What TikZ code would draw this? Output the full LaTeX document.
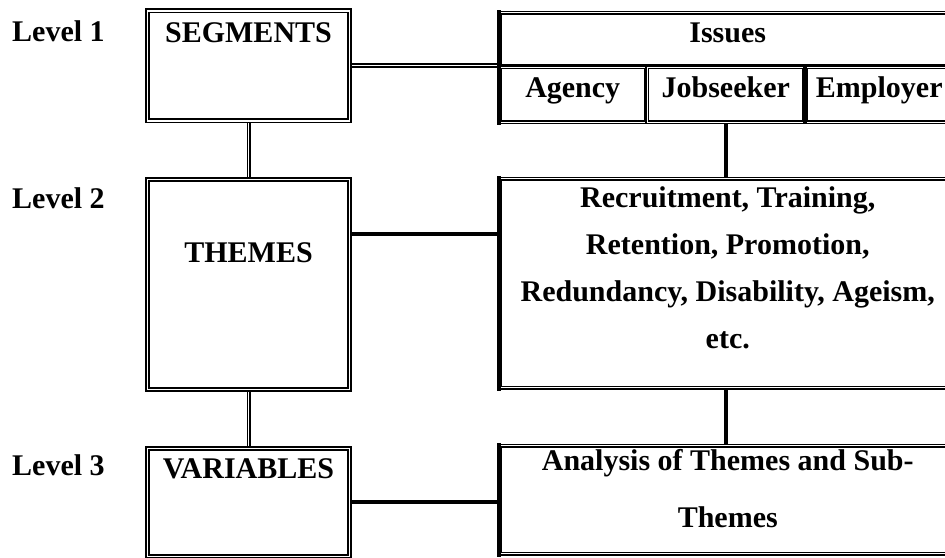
\documentclass[tikz,border=0pt]{standalone}
\usepackage{fontspec}
\setmainfont{Liberation Serif}
\usetikzlibrary{positioning, backgrounds}

\tikzset{
  lbox/.style={draw, double, line width=1.7pt, double distance=1.4pt, inner sep=0pt, minimum width=202pt},
  rbox/.style={draw, double, line width=1.5pt, double distance=1pt, inner sep=0pt, anchor=north west},
  lvl/.style={anchor=base west, inner sep=0pt},
  thickedge/.style={line width=4pt, line cap=rect},
  thickline/.style={line width=4pt},
  hdbl/.style={double, line width=1.8pt, double distance=1.2pt},
  vdbl/.style={double, line width=1.3pt, double distance=1.4pt}
}

\begin{document}
\begin{tikzpicture}[x=1pt, y=-1pt, every node/.style={font=\fontsize{30}{47}\selectfont\bfseries}]
        \useasboundingbox (0,0) rectangle (945,557);
        \clip (0,0) rectangle (945,557);

        % Level labels
        \node[lvl] (lvlA) at (12,41.7) {Level 1};
        \node[lvl] (lvlB) at (12,208) {Level 2};
        \node[lvl] (lvlC) at (12,475) {Level 3};

        % Left column
        \node[lbox, anchor=north, text height=31.7pt, text depth=78.3pt] (segments) at (248.5,10) {SEGMENTS};
        \node[lbox, below=57pt of segments, text height=82.5pt, text depth=127.5pt] (themes) {THEMES};
        \node[lbox, below=57pt of themes, text height=30.5pt, text depth=77.5pt] (variables) {VARIABLES};

        % Issues table
        \node[rbox, minimum width=456pt, text height=30pt, text depth=23pt] (issues) at (499,12) {Issues};
        \node[rbox, minimum width=146pt, text height=30pt, text depth=25pt] (agency) at (issues.south west) {Agency};
        \node[rbox, minimum width=157pt, text height=30pt, text depth=25pt, right=0pt of agency] (jobseeker) {Jobseeker};
        \node[rbox, minimum width=147pt, text height=30pt, text depth=25pt, right=0pt of jobseeker] (employer) {Employer};

        % Themes and analysis
        \node[rbox, minimum width=456pt, align=center, text height=170pt, text depth=39pt] (recruit) at (499,178) {Recruitment, Training,\\Retention, Promotion,\\Redundancy, Disability, Ageism,\\etc.};
        \node[rbox, minimum width=456pt, align=center, font=\fontsize{30}{57}\selectfont\bfseries, text height=82pt, text depth=26pt] (analysis) at (499,445) {Analysis of Themes and Sub-\\Themes};

        % Heavy edges
        \draw[thickedge] (issues.north west) -- (agency.south west);
        \draw[thickedge] (recruit.north west) -- (recruit.south west);
        \draw[thickedge] (analysis.north west) -- (analysis.south west);
        \draw[line width=3.5pt] (employer.north west) -- (employer.south west);

        % Connectors
        \begin{scope}[on background layer]
        \draw[hdbl] (segments.east) -- (segments.east -| issues.west);
        \draw[vdbl] (segments) -- (themes);
        \draw[vdbl] (themes) -- (variables);
        \draw[thickline] ([yshift=-55.5pt]themes.north east) -- ([yshift=-55.5pt]themes.north east -| recruit.west);
        \draw[thickline] (variables.east) -- (variables.east -| analysis.west);
        \draw[thickline] (jobseeker.south) -- (jobseeker.south |- recruit.north);
        \draw[thickline] (recruit.south -| jobseeker.south) -- (analysis.north -| jobseeker.south);
        \end{scope}
\end{tikzpicture}
\end{document}
